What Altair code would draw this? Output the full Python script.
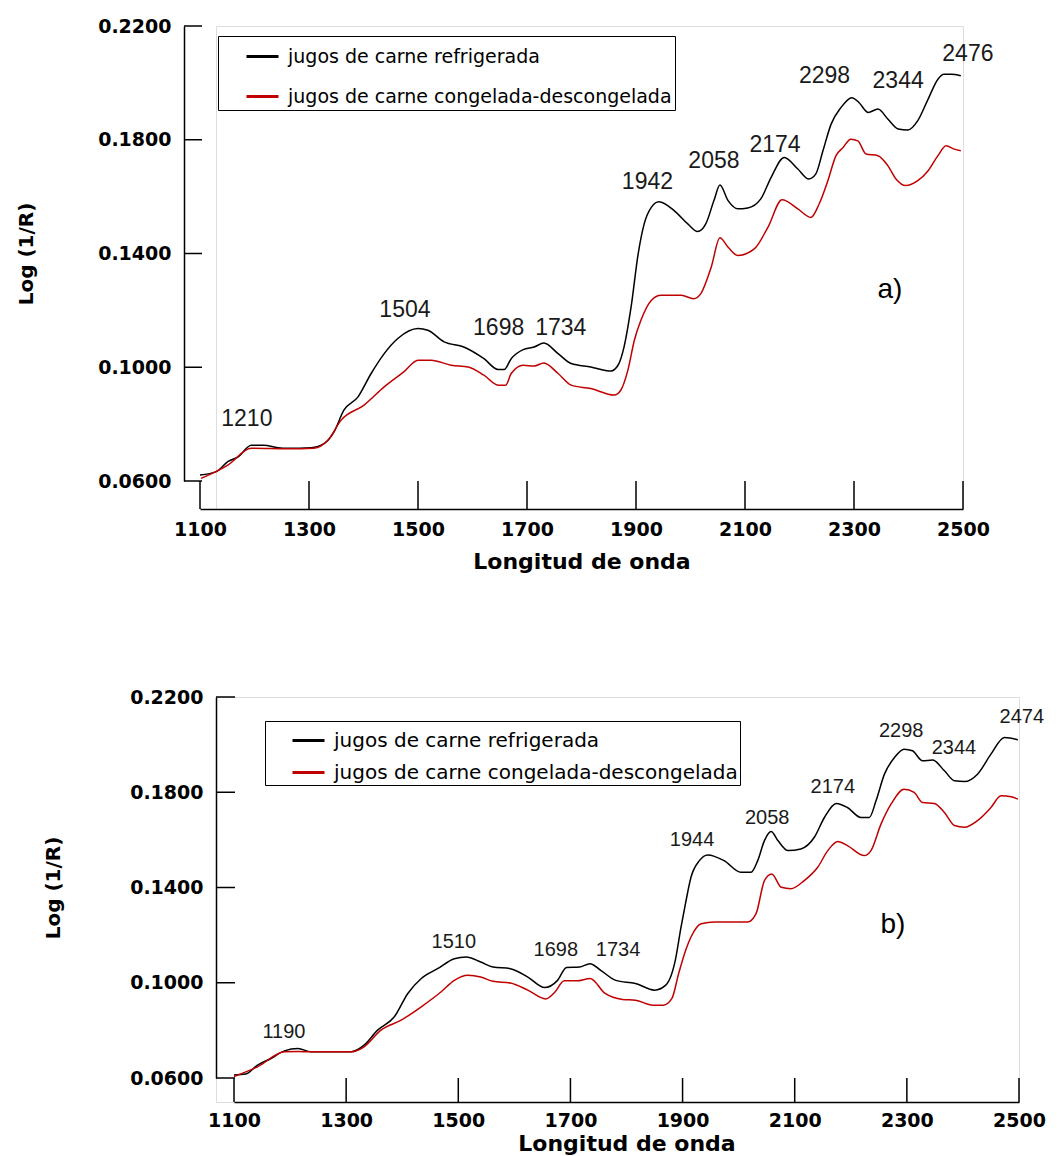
import altair as alt
import pandas as pd

# Series names
SERIES = ["jugos de carne refrigerada", "jugos de carne congelada-descongelada"]
COLORS = ["#000000", "#c00000"]

# Shared axes
X_TICKS = [1100, 1300, 1500, 1700, 1900, 2100, 2300, 2500]
Y_TICKS = [0.06, 0.10, 0.14, 0.18, 0.22]

# ---------------- panel a ----------------
wl_a_ref = [1100, 1130, 1151, 1170, 1194, 1217, 1243, 1261, 1304, 1328, 1346, 1364, 1390,
            1414, 1438, 1463, 1500, 1518, 1548, 1584, 1621, 1647, 1658, 1671, 1693, 1713,
            1731, 1757, 1781, 1817, 1854, 1867, 1878, 1891, 1904, 1915, 1928, 1942, 1970,
            1995, 2013, 2028, 2043, 2054, 2069, 2087, 2105, 2129, 2148, 2172, 2197, 2217,
            2230, 2243, 2258, 2276, 2296, 2309, 2326, 2344, 2362, 2381, 2399, 2417, 2436,
            2454, 2465, 2478, 2496]
val_a_ref = [0.0621, 0.0633, 0.0668, 0.0685, 0.0726, 0.0726, 0.0717, 0.0715, 0.0717, 0.0732,
             0.0773, 0.0849, 0.0896, 0.0978, 0.1048, 0.1101, 0.1136, 0.1130, 0.1089, 0.1071,
             0.1030, 0.0992, 0.0992, 0.1030, 0.1062, 0.1071, 0.1085, 0.1048, 0.1013, 0.1001,
             0.0987, 0.1007, 0.1071, 0.1212, 0.1399, 0.1504, 0.1562, 0.1582, 0.1551, 0.1504,
             0.1477, 0.1504, 0.1586, 0.1641, 0.1586, 0.1557, 0.1560, 0.1592, 0.1668, 0.1738,
             0.1697, 0.1662, 0.1680, 0.1761, 0.1855, 0.1913, 0.1948, 0.1931, 0.1896, 0.1908,
             0.1873, 0.1838, 0.1834, 0.1867, 0.1943, 0.2013, 0.2030, 0.2030, 0.2025]

wl_a_fro = [1102, 1151, 1194, 1261, 1309, 1335, 1359, 1401, 1438, 1474, 1500, 1524, 1561,
            1592, 1621, 1647, 1661, 1671, 1693, 1713, 1731, 1757, 1781, 1817, 1860, 1872,
            1885, 1897, 1909, 1928, 1946, 1983, 2006, 2019, 2038, 2054, 2069, 2087, 2117,
            2142, 2168, 2197, 2221, 2236, 2252, 2267, 2280, 2294, 2307, 2322, 2344, 2362,
            2377, 2395, 2417, 2436, 2454, 2469, 2484, 2496]
val_a_fro = [0.0609, 0.0656, 0.0715, 0.0713, 0.0715, 0.0744, 0.0814, 0.0867, 0.0931, 0.0984,
             0.1025, 0.1025, 0.1007, 0.1001, 0.0972, 0.0937, 0.0937, 0.0978, 0.1007, 0.1004,
             0.1015, 0.0978, 0.0937, 0.0925, 0.0902, 0.0919, 0.0989, 0.1095, 0.1165, 0.1235,
             0.1253, 0.1253, 0.1241, 0.1259, 0.1352, 0.1455, 0.1422, 0.1393, 0.1416, 0.1492,
             0.1589, 0.1557, 0.1527, 0.1574, 0.1656, 0.1744, 0.1773, 0.1802, 0.1796, 0.1750,
             0.1744, 0.1709, 0.1662, 0.1639, 0.1656, 0.1691, 0.1744, 0.1779, 0.1767, 0.1761]

peak_txt_a = ["1210", "1504", "1698", "1734", "1942", "2058", "2174", "2298", "2344", "2476"]
peak_wl_a = [1186, 1476, 1648, 1762, 1921, 2043, 2155, 2246, 2381, 2509]
peak_val_a = [0.0818, 0.1200, 0.1137, 0.1137, 0.1650, 0.1726, 0.1782, 0.2025, 0.2007, 0.2102]

# ---------------- panel b ----------------
wl_b_ref = [1100, 1121, 1142, 1166, 1190, 1214, 1237, 1273, 1309, 1332, 1356, 1386, 1410,
            1434, 1463, 1493, 1514, 1540, 1562, 1593, 1624, 1654, 1677, 1693, 1716, 1735,
            1754, 1781, 1816, 1850, 1870, 1887, 1897, 1905, 1915, 1930, 1945, 1974, 2004,
            2022, 2034, 2046, 2058, 2070, 2088, 2111, 2135, 2153, 2174, 2194, 2218, 2233,
            2245, 2260, 2278, 2295, 2310, 2328, 2346, 2367, 2385, 2403, 2426, 2450, 2474,
            2498]
val_b_ref = [0.0613, 0.0617, 0.0654, 0.0682, 0.0714, 0.0724, 0.0710, 0.0710, 0.0710, 0.0738,
             0.0801, 0.0857, 0.0955, 0.1018, 0.1059, 0.1101, 0.1108, 0.1087, 0.1066, 0.1059,
             0.1024, 0.0980, 0.1010, 0.1064, 0.1066, 0.1080, 0.1052, 0.1010, 0.0997, 0.0969,
             0.0990, 0.1094, 0.1230, 0.1330, 0.1443, 0.1513, 0.1537, 0.1513, 0.1464, 0.1464,
             0.1513, 0.1597, 0.1635, 0.1597, 0.1555, 0.1562, 0.1611, 0.1694, 0.1753, 0.1736,
             0.1694, 0.1694, 0.1764, 0.1876, 0.1946, 0.1981, 0.1974, 0.1932, 0.1935, 0.1890,
             0.1848, 0.1845, 0.1876, 0.1960, 0.2030, 0.2020]

wl_b_fro = [1100, 1142, 1190, 1214, 1237, 1309, 1332, 1362, 1398, 1434, 1469, 1493, 1517,
            1540, 1562, 1593, 1624, 1656, 1672, 1689, 1712, 1735, 1762, 1793, 1816, 1847,
            1866, 1881, 1893, 1906, 1915, 1933, 1957, 1993, 2016, 2031, 2046, 2059, 2076,
            2093, 2117, 2141, 2159, 2177, 2194, 2224, 2236, 2254, 2272, 2295, 2313, 2328,
            2349, 2367, 2385, 2403, 2426, 2450, 2468, 2486, 2498]
val_b_fro = [0.0606, 0.0647, 0.0710, 0.0711, 0.0710, 0.0710, 0.0731, 0.0801, 0.0843, 0.0899,
             0.0961, 0.1010, 0.1031, 0.1024, 0.1006, 0.0999, 0.0969, 0.0932, 0.0960, 0.1008,
             0.1008, 0.1018, 0.0955, 0.0930, 0.0927, 0.0906, 0.0906, 0.0934, 0.1039, 0.1140,
             0.1192, 0.1248, 0.1255, 0.1255, 0.1255, 0.1290, 0.1429, 0.1457, 0.1401, 0.1395,
             0.1429, 0.1485, 0.1555, 0.1593, 0.1576, 0.1534, 0.1555, 0.1667, 0.1751, 0.1813,
             0.1799, 0.1757, 0.1753, 0.1715, 0.1660, 0.1653, 0.1681, 0.1736, 0.1785, 0.1781,
             0.1771]

peak_txt_b = ["1190", "1510", "1698", "1734", "1944", "2058", "2174", "2298", "2344", "2474"]
peak_wl_b = [1189, 1492, 1674, 1785, 1917, 2051, 2168, 2290, 2384, 2505]
peak_val_b = [0.0793, 0.1170, 0.1136, 0.1136, 0.1601, 0.1693, 0.1823, 0.2058, 0.1987, 0.2116]

AXIS_FONT = "DejaVu Sans"
LABEL_FONT = "Liberation Sans"


def spectra_frame(wl_r, val_r, wl_f, val_f):
    a = pd.DataFrame({"wl": wl_r, "val": val_r, "serie": SERIES[0]})
    b = pd.DataFrame({"wl": wl_f, "val": val_f, "serie": SERIES[1]})
    return pd.concat([a, b], ignore_index=True)


def panel(df, peaks, tag, tag_pos, geom):
    w, h = geom["w"], geom["h"]
    gap = geom["gap"]               # distance between y=0.06 and the x axis line
    yoff = geom["yoff"]             # y axis pushed left of the plot origin
    x_start = geom["x_start"]       # pixel position of 1100 inside the view
    ytick_len = geom["ytick_len"]

    xs = alt.Scale(domain=[1100, 2500], range=[x_start, w], nice=False, zero=False)
    ys = alt.Scale(domain=[0.06, 0.22], range=[h - gap, 0], nice=False, zero=False)

    x_axis = alt.Axis(
        values=X_TICKS, format="d", ticks=False, tickSize=0, grid=False,
        domainColor="black", domainWidth=1.5, labelFlush=False, labelOverlap=False,
        labelFont=AXIS_FONT, labelFontWeight="bold", labelFontSize=19, labelColor="black",
        labelPadding=geom["xlabpad"],
        title="Longitud de onda", titleFont=AXIS_FONT, titleFontWeight="bold",
        titleFontSize=22, titleColor="black", titleY=geom["xtitle_y"],
        titleBaseline="middle",
    )
    y_axis = alt.Axis(
        values=Y_TICKS, format=".4f", ticks=False, tickSize=0, grid=False, offset=yoff,
        domainColor="black", domainWidth=1.5, labelFlush=False, labelOverlap=False,
        labelFont=AXIS_FONT, labelFontWeight="bold", labelFontSize=19, labelColor="black",
        labelPadding=13,
        title="Log (1/R)", titleFont=AXIS_FONT, titleFontWeight="bold", titleFontSize=20,
        titleColor="black", titleX=geom["ytitle_x"], titleY=(h - gap) / 2,
        titleAngle=270, titleAlign="center", titleBaseline="middle",
    )

    legend = alt.Legend(
        title=None, orient="none", legendX=geom["legx"], legendY=geom["legy"],
        direction="vertical", fillColor="white", strokeColor="black",
        padding=geom["legpad"], symbolType="stroke", symbolSize=1024, symbolStrokeWidth=3,
        symbolOffset=24, labelOffset=8, rowPadding=geom["rowpad"],
        labelFont=AXIS_FONT, labelFontSize=geom["legfont"], labelColor="black",
        labelLimit=0,
    )

    lines = alt.Chart(df).mark_line(strokeWidth=1.5, interpolate="monotone").encode(
        x=alt.X("wl:Q", scale=xs, axis=x_axis),
        y=alt.Y("val:Q", scale=ys, axis=y_axis),
        color=alt.Color("serie:N", scale=alt.Scale(domain=SERIES, range=COLORS),
                        legend=legend, sort=SERIES),
        order=alt.Order("wl:Q"),
    )

    # y ticks point into the plot, x ticks rise from the offset x axis
    yt = alt.Chart(pd.DataFrame({"val": Y_TICKS})).mark_rule(
        color="black", strokeWidth=1.5).encode(
        y=alt.Y("val:Q"), x=alt.value(-yoff), x2=alt.value(-yoff + ytick_len))
    xt = alt.Chart(pd.DataFrame({"wl": X_TICKS})).mark_rule(
        color="black", strokeWidth=1.5).encode(
        x=alt.X("wl:Q"), y=alt.value(h), y2=alt.value(h - gap))

    pk = pd.DataFrame({"wl": peaks[1], "val": peaks[2], "txt": peaks[0]})
    labels = alt.Chart(pk).mark_text(
        font=LABEL_FONT, fontSize=geom["pkfont"], color="#1a1a1a",
        align="center", baseline="middle").encode(
        x="wl:Q", y="val:Q", text="txt:N")

    tg = pd.DataFrame({"wl": [tag_pos[0]], "val": [tag_pos[1]], "txt": [tag]})
    tag_mark = alt.Chart(tg).mark_text(
        font=LABEL_FONT, fontSize=28, color="black",
        align="center", baseline="middle").encode(
        x="wl:Q", y="val:Q", text="txt:N")

    return alt.layer(lines, yt, xt, labels, tag_mark).properties(width=w, height=h)


geom_a = dict(w=747, h=483, gap=28, yoff=32, x_start=-16, ytick_len=18,
              xlabpad=11, xtitle_y=52, ytitle_x=-158, legx=2, legy=10,
              legpad=3, rowpad=12, legfont=19, pkfont=23)
geom_b = dict(w=803, h=405, gap=24, yoff=0, x_start=18, ytick_len=19,
              xlabpad=9, xtitle_y=41, ytitle_x=-163, legx=49, legy=24,
              legpad=2, rowpad=4, legfont=20, pkfont=20)

chart_a = panel(spectra_frame(wl_a_ref, val_a_ref, wl_a_fro, val_a_fro),
                (peak_txt_a, peak_wl_a, peak_val_a), "a)", (2366, 0.1270), geom_a)
chart_b = panel(spectra_frame(wl_b_ref, val_b_ref, wl_b_fro, val_b_fro),
                (peak_txt_b, peak_wl_b, peak_val_b), "b)", (2275, 0.1241), geom_b)

chart = alt.vconcat(chart_a, chart_b, spacing=114).resolve_scale(
    x="independent", y="independent", color="independent"
).resolve_legend(color="independent").properties(
    padding={"left": 15, "top": 16, "right": 5, "bottom": 5}
).configure_view(stroke=None).configure(background="white")

chart.save("out.html", embed_options={"renderer": "svg", "actions": False})
